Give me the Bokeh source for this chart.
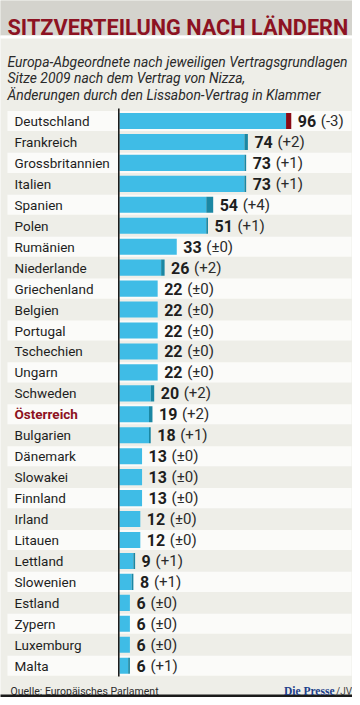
from bokeh.plotting import figure
from bokeh.models import ColumnDataSource, Range1d
from bokeh.core.properties import value
from bokeh.embed import file_html
from bokeh.resources import INLINE

# ---- data ----
countries = ["Deutschland", "Frankreich", "Grossbritannien", "Italien", "Spanien", "Polen",
             "Rumänien", "Niederlande", "Griechenland", "Belgien", "Portugal", "Tschechien",
             "Ungarn", "Schweden", "Österreich", "Bulgarien", "Dänemark", "Slowakei",
             "Finnland", "Irland", "Litauen", "Lettland", "Slowenien", "Estland", "Zypern",
             "Luxemburg", "Malta"]
seats = [96, 74, 73, 73, 54, 51, 33, 26, 22, 22, 22, 22, 22, 20, 19, 18, 13, 13, 13, 12, 12,
         9, 8, 6, 6, 6, 6]
changes = [-3, 2, 1, 1, 4, 1, 0, 2, 0, 0, 0, 0, 0, 2, 2, 1, 0, 0, 0, 0, 0, 1, 1, 0, 0, 0, 1]
highlight = "Österreich"

title = "SITZVERTEILUNG NACH LÄNDERN"
subtitle = ["Europa-Abgeordnete nach jeweiligen Vertragsgrundlagen",
            "Sitze 2009 nach dem Vertrag von Nizza,",
            "Änderungen durch den Lissabon-Vertrag in Klammer"]
source_note = "Quelle: Europäisches Parlament"

# ---- colours / fonts ----
BG = "#eeeee8"
HEADER = "#d4d3cd"
STRIPE = "#fbfbf9"
RED = "#8d1222"
BLUE = "#3fbce6"
TEAL = "#1b87a3"
DARKRED = "#8a0a16"
TXT = "#1e1e1e"
FONT = value("Roboto")

# layout helpers (reference pixel -> data)
PX_PER_SEAT = 1.735
X0 = 119.0
ROW0 = 120.5
PITCH = 20.95
W, H = 352, 697


def X(px):
    return (px - X0) / PX_PER_SEAT


def Y(py):
    return (py - ROW0) / PITCH


n = len(countries)
rows = list(range(n))
lo = [min(s, s - c) for s, c in zip(seats, changes)]
hi = [max(s, s - c) for s, c in zip(seats, changes)]
acc_col = [TEAL if c > 0 else DARKRED for c in changes]
chg_txt = ["(±0)" if c == 0 else ("(+%d)" % c if c > 0 else "(%d)" % c) for c in changes]
num_txt = [str(s) for s in seats]
chg_off = [6.5 + 9.0 * len(t) + 5.0 for t in num_txt]
lab_col = [RED if c == highlight else TXT for c in countries]
lab_sty = ["bold" if c == highlight else "normal" for c in countries]

src = ColumnDataSource(dict(row=rows, country=countries, lo=lo, hi=hi, acc=acc_col,
                            zero=[0] * n, num=num_txt, chg=chg_txt, chg_off=chg_off,
                            lab_col=lab_col, lab_sty=lab_sty))

p = figure(width=W, height=H,
           x_range=Range1d(X(0), X(W)), y_range=Range1d(Y(H), Y(0)),
           x_axis_type=None, y_axis_type=None,
           output_backend="svg", toolbar_location=None, min_border=0)
p.grid.visible = False
p.outline_line_color = None
p.background_fill_color = BG
p.border_fill_color = BG

# header band and white separator
p.quad(left=X(-2), right=X(W + 2), top=Y(-2), bottom=Y(35), fill_color=HEADER, line_color=None)
p.quad(left=X(-2), right=X(W + 2), top=Y(35), bottom=Y(38), fill_color="#ffffff", line_color=None)
# bottom black bar
p.quad(left=X(-2), right=X(W + 2), top=Y(694), bottom=Y(H + 2), fill_color="#1a1a1a", line_color=None)

# alternating white stripes
stripe_rows = [r for r in rows if r % 2 == 0]
p.hbar(y=stripe_rows, left=X(7), right=X(351), height=0.96, fill_color=STRIPE, line_color=None)

# bars
p.hbar(y="row", left="zero", right="lo", height=0.77, source=src, fill_color=BLUE, line_color=None)
p.hbar(y="row", left="lo", right="hi", height=0.77, source=src, fill_color="acc", line_color=None)

# axis line
p.segment(x0=X(118.3), x1=X(118.3), y0=Y(108), y1=Y(676), line_color="#111111", line_width=1.5)

# country labels
p.text(x=X(14), y="row", text="country", source=src, text_font=FONT, text_font_size="13.5px",
       text_baseline="middle", text_color="lab_col", text_font_style="lab_sty")

# values
p.text(x="hi", y="row", text="num", source=src, x_offset=6.5, text_font=FONT,
       text_font_size="16px", text_font_style="bold", text_baseline="middle", text_color=TXT)
p.text(x="hi", y="row", text="chg", source=src, x_offset="chg_off", text_font=FONT,
       text_font_size="15px", text_baseline="middle", text_color="#2b2b2b")

# title & subtitle
p.text(x=[X(7)], y=[Y(26.5)], text=[title], text_font=FONT, text_font_size="21.7px",
       text_font_style="bold", text_color=RED, text_baseline="alphabetic")
for i, line in enumerate(subtitle):
    p.text(x=[X(7)], y=[Y(61 + 16.5 * i)], text=[line], text_font=FONT, text_font_size="13.9px",
           text_font_style="italic", text_color="#2a2a2a", text_baseline="alphabetic")

# footer
p.text(x=[X(10)], y=[Y(690.5)], text=[source_note], text_font=FONT, text_font_size="10.5px",
       text_color="#2a2a2a", text_baseline="alphabetic")
p.text(x=[X(334)], y=[Y(690.5)], text=["Die Presse"], text_font=value("Liberation Serif"),
       text_font_size="11.5px", text_font_style="bold", text_color="#1d3f8a",
       text_align="right", text_baseline="alphabetic")
p.text(x=[X(335.5)], y=[Y(690.5)], text=["/JV"], text_font=FONT, text_font_size="10px",
       text_color="#444444", text_baseline="alphabetic")

open("out.html", "w").write(file_html(p, INLINE))
